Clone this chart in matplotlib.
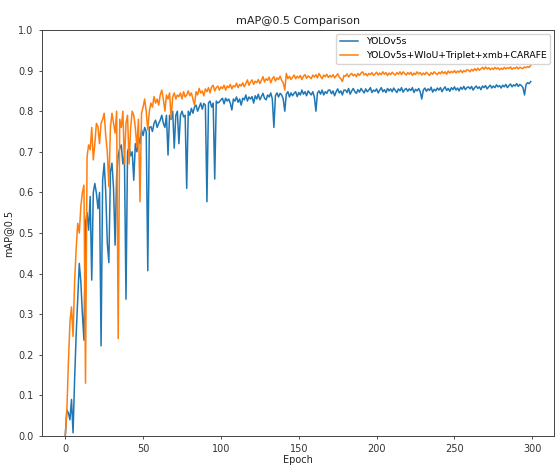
import matplotlib
matplotlib.use("Agg")
import matplotlib.pyplot as plt
import numpy as np

epochs = list(range(300))

yolov5s = [
    0.000, 0.064, 0.057, 0.040, 0.090, 0.008, 0.140, 0.250, 0.340, 0.425,
    0.380, 0.300, 0.236, 0.525, 0.550, 0.507, 0.590, 0.384, 0.600, 0.622,
    0.598, 0.560, 0.600, 0.222, 0.630, 0.672, 0.600, 0.475, 0.427, 0.650,
    0.672, 0.610, 0.470, 0.640, 0.690, 0.709, 0.717, 0.670, 0.690, 0.337,
    0.700, 0.713, 0.690, 0.700, 0.630, 0.720, 0.700, 0.737, 0.720, 0.754,
    0.740, 0.760, 0.750, 0.407, 0.760, 0.762, 0.750, 0.770, 0.778, 0.760,
    0.770, 0.778, 0.790, 0.770, 0.760, 0.790, 0.692, 0.790, 0.780, 0.800,
    0.709, 0.790, 0.800, 0.720, 0.790, 0.800, 0.786, 0.790, 0.610, 0.800,
    0.790, 0.807, 0.795, 0.810, 0.815, 0.800, 0.810, 0.820, 0.805, 0.819,
    0.815, 0.577, 0.820, 0.825, 0.810, 0.820, 0.633, 0.825, 0.820, 0.823,
    0.828, 0.832, 0.818, 0.832, 0.825, 0.830, 0.820, 0.803, 0.830, 0.825,
    0.835, 0.822, 0.830, 0.815, 0.832, 0.828, 0.840, 0.825, 0.835, 0.830,
    0.836, 0.820, 0.838, 0.830, 0.842, 0.828, 0.836, 0.844, 0.832, 0.828,
    0.840, 0.835, 0.845, 0.830, 0.760, 0.838, 0.845, 0.835, 0.844, 0.840,
    0.830, 0.800, 0.842, 0.848, 0.835, 0.845, 0.838, 0.844, 0.848, 0.836,
    0.846, 0.840, 0.852, 0.842, 0.848, 0.838, 0.850, 0.845, 0.840, 0.848,
    0.835, 0.800, 0.845, 0.850, 0.842, 0.852, 0.840, 0.848, 0.844, 0.852,
    0.852, 0.843, 0.850, 0.838, 0.848, 0.855, 0.845, 0.850, 0.840, 0.852,
    0.852, 0.846, 0.856, 0.842, 0.850, 0.856, 0.848, 0.844, 0.853, 0.847,
    0.856, 0.850, 0.845, 0.855, 0.848, 0.852, 0.858, 0.846, 0.852, 0.849,
    0.855, 0.845, 0.852, 0.858, 0.848, 0.853, 0.846, 0.856, 0.850, 0.855,
    0.848, 0.857, 0.851, 0.846, 0.855, 0.850, 0.858, 0.847, 0.853, 0.856,
    0.849, 0.855, 0.851, 0.858, 0.846, 0.854, 0.850, 0.856, 0.848, 0.830,
    0.852, 0.857, 0.849, 0.855, 0.851, 0.859, 0.847, 0.854, 0.850, 0.857,
    0.852, 0.858, 0.848, 0.855, 0.860, 0.851, 0.856, 0.849, 0.858, 0.853,
    0.860, 0.852, 0.857, 0.850, 0.859, 0.854, 0.861, 0.853, 0.858, 0.860,
    0.855, 0.861, 0.852, 0.858, 0.862, 0.856, 0.860, 0.853, 0.862, 0.858,
    0.863, 0.855, 0.860, 0.864, 0.857, 0.862, 0.858, 0.865, 0.860, 0.863,
    0.857, 0.864, 0.860, 0.866, 0.858, 0.863, 0.867, 0.860, 0.865, 0.862,
    0.868, 0.861, 0.866, 0.863, 0.858, 0.840, 0.866, 0.870, 0.868, 0.873,
]

improved = [
    0.000, 0.060, 0.180, 0.280, 0.318, 0.245, 0.380, 0.460, 0.524, 0.500,
    0.565, 0.600, 0.618, 0.130, 0.688, 0.717, 0.705, 0.760, 0.680, 0.720,
    0.770, 0.762, 0.720, 0.770, 0.780, 0.795, 0.740, 0.700, 0.614, 0.760,
    0.795, 0.770, 0.746, 0.800, 0.240, 0.780, 0.760, 0.800, 0.670, 0.770,
    0.790, 0.670, 0.760, 0.800, 0.790, 0.760, 0.710, 0.780, 0.577, 0.795,
    0.810, 0.830, 0.800, 0.754, 0.800, 0.820, 0.810, 0.836, 0.820, 0.830,
    0.815, 0.840, 0.852, 0.830, 0.800, 0.840, 0.830, 0.845, 0.782, 0.835,
    0.845, 0.830, 0.840, 0.836, 0.845, 0.830, 0.848, 0.835, 0.840, 0.850,
    0.838, 0.845, 0.830, 0.815, 0.848, 0.840, 0.856, 0.845, 0.850, 0.838,
    0.855, 0.848, 0.858, 0.845, 0.860, 0.864, 0.850, 0.858, 0.862, 0.852,
    0.860, 0.856, 0.864, 0.852, 0.862, 0.858, 0.866, 0.855, 0.863, 0.860,
    0.869, 0.858, 0.866, 0.862, 0.870, 0.860, 0.868, 0.877, 0.864, 0.872,
    0.877, 0.866, 0.874, 0.870, 0.878, 0.868, 0.876, 0.885, 0.872, 0.880,
    0.876, 0.884, 0.870, 0.880, 0.885, 0.874, 0.882, 0.878, 0.886, 0.876,
    0.870, 0.852, 0.893, 0.880, 0.886, 0.878, 0.884, 0.889, 0.880, 0.886,
    0.882, 0.888, 0.878, 0.886, 0.890, 0.881, 0.887, 0.884, 0.880, 0.889,
    0.884, 0.890, 0.882, 0.893, 0.886, 0.880, 0.889, 0.885, 0.891, 0.883,
    0.888, 0.884, 0.890, 0.882, 0.887, 0.892, 0.884, 0.880, 0.873, 0.888,
    0.886, 0.892, 0.884, 0.890, 0.893, 0.887, 0.891, 0.885, 0.893, 0.888,
    0.894, 0.897, 0.889, 0.893, 0.887, 0.893, 0.890, 0.895, 0.888, 0.892,
    0.896, 0.889, 0.894, 0.890, 0.897, 0.891, 0.895, 0.888, 0.894, 0.890,
    0.896, 0.892, 0.889, 0.895, 0.891, 0.897, 0.890, 0.897, 0.893, 0.889,
    0.895, 0.891, 0.896, 0.888, 0.894, 0.890, 0.897, 0.892, 0.895, 0.889,
    0.894, 0.890, 0.896, 0.892, 0.888, 0.895, 0.891, 0.897, 0.893, 0.890,
    0.896, 0.892, 0.898, 0.893, 0.897, 0.891, 0.899, 0.894, 0.898, 0.895,
    0.900, 0.894, 0.899, 0.896, 0.901, 0.895, 0.900, 0.897, 0.902, 0.901,
    0.897, 0.903, 0.899, 0.905, 0.900, 0.906, 0.901, 0.904, 0.908, 0.903,
    0.909, 0.904, 0.907, 0.902, 0.906, 0.903, 0.908, 0.904, 0.907, 0.902,
    0.906, 0.903, 0.908, 0.904, 0.907, 0.905, 0.909, 0.903, 0.907, 0.905,
    0.909, 0.904, 0.908, 0.906, 0.905, 0.909, 0.907, 0.910, 0.908, 0.913,
]

labels = ["YOLOv5s", "YOLOv5s+WIoU+Triplet+xmb+CARAFE"]
title = "mAP@0.5 Comparison"
xlabel = "Epoch"
ylabel = "mAP@0.5"

fig = plt.figure(figsize=(5.55, 4.65), dpi=100)
ax = fig.add_axes([42/555, 1 - 436/465, (554 - 42)/555, (436 - 30)/465])

ax.plot(epochs, yolov5s, color="#1f77b4", lw=1.1, label=labels[0])
ax.plot(epochs, improved, color="#ff7f0e", lw=1.1, label=labels[1])

ax.set_ylim(0, 1.0)
ax.set_yticks(np.arange(0, 1.01, 0.1))
ax.set_xticks([0, 50, 100, 150, 200, 250, 300])
ax.tick_params(labelsize=7, length=2.5, width=0.6, colors="#333333")
for s in ax.spines.values():
    s.set_linewidth(0.7)
    s.set_color("#444444")

ax.set_title(title, fontsize=8, pad=4, color="#222222")
ax.set_xlabel(xlabel, fontsize=7, labelpad=0.5, color="#222222")
ax.set_ylabel(ylabel, fontsize=7, labelpad=4, color="#222222")
ax.legend(loc="upper right", fontsize=6.7, frameon=True, handlelength=2.0,
          borderaxespad=0.4)

fig.savefig("out.png", dpi=100)
